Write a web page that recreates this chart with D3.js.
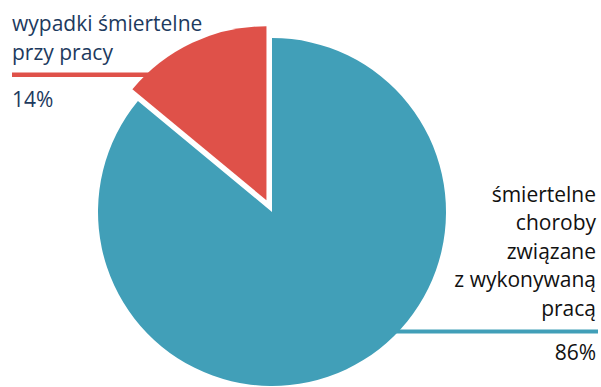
<!DOCTYPE html>
<html>
<head>
<meta charset="utf-8">
<script src="https://cdn.jsdelivr.net/npm/d3@7"></script>
<style>
  body { margin: 0; background: #fff; }
  text { font-family: "Open Sans", sans-serif; }
</style>
</head>
<body>
<div class="pie-chart"></div>
<script>
// Data
const categories = ["wypadki śmiertelne przy pracy", "śmiertelne choroby związane z wykonywaną pracą"];
const values = [14, 86];
const percentLabels = ["14%", "86%"];
const labelLines = [
  ["wypadki śmiertelne", "przy pracy"],
  ["śmiertelne", "choroby", "związane", "z wykonywaną", "pracą"]
];

// Setup
const width = 601, height = 387;
const radius = 174;
const cx = 272, cy = 212;
const explode = 13;
const colors = d3.scaleOrdinal().domain(categories).range(["#df5149", "#419fb8"]);

const svg = d3.select(".pie-chart")
  .append("svg")
  .attr("width", width)
  .attr("height", height);

const start = -2 * Math.PI * values[0] / d3.sum(values);
const pie = d3.pie()
  .sort(null)
  .startAngle(start)
  .endAngle(start + 2 * Math.PI);

const arcs = pie(values);
const arc = d3.arc().innerRadius(0).outerRadius(radius);

const offset = d => {
  if (d.index !== 0) return [0, 0];
  const mid = (d.startAngle + d.endAngle) / 2;
  return d3.pointRadial(mid, explode);
};

// Leader lines (under slices)
const g = svg.append("g").attr("transform", `translate(${cx},${cy})`);

const leaderAngle = [arcs[0].startAngle + 0.167, arcs[1].startAngle + 2.374];
const leaderEnd = [12 - cx, 598 - cx];
arcs.forEach((d, i) => {
  const [ox, oy] = offset(d);
  const p = d3.pointRadial(leaderAngle[i], radius - 8);
  g.append("line")
    .attr("x1", p[0] + ox)
    .attr("y1", p[1] + oy)
    .attr("x2", leaderEnd[i])
    .attr("y2", p[1] + oy)
    .attr("stroke", colors(categories[i]))
    .attr("stroke-width", i === 0 ? 4.5 : 4);
});

// Slices
g.selectAll("path")
  .data(arcs)
  .enter()
  .append("path")
  .attr("transform", d => `translate(${offset(d)})`)
  .attr("d", arc)
  .attr("fill", (d, i) => colors(categories[i]));

// Labels
const left = svg.append("g").attr("fill", "#1d3a5e").attr("font-size", 21);
left.selectAll("text.name")
  .data(labelLines[0])
  .enter()
  .append("text")
  .attr("class", "name")
  .attr("x", 12)
  .attr("y", (d, i) => 31 + i * 29)
  .text(d => d);
left.append("text")
  .attr("x", 12)
  .attr("y", 106.5)
  .text(percentLabels[0]);

const right = svg.append("g").attr("fill", "#111").attr("font-size", 21).attr("text-anchor", "end");
right.selectAll("text.name")
  .data(labelLines[1])
  .enter()
  .append("text")
  .attr("class", "name")
  .attr("x", 596)
  .attr("y", (d, i) => 201.5 + i * 28.5)
  .text(d => d);
right.append("text")
  .attr("x", 596)
  .attr("y", 360)
  .text(percentLabels[1]);
</script>
</body>
</html>
